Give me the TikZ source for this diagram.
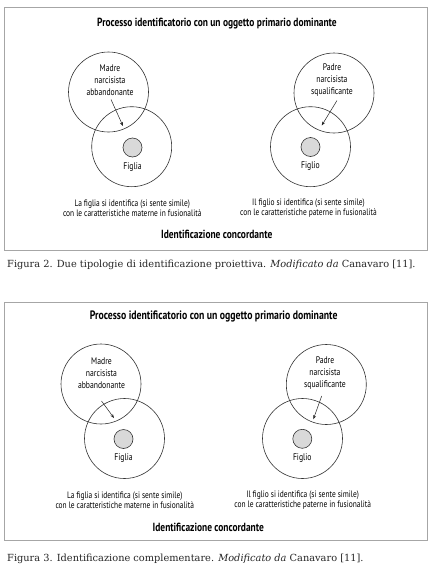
\documentclass[tikz,border=0pt]{standalone}
\usepackage{fontspec}
\setmainfont{DejaVu Serif}
\newfontfamily\cond{PT Sans}[FakeStretch=0.8]
\usetikzlibrary{arrows.meta}
\begin{document}
\begin{tikzpicture}[x=1pt,y=-1pt,
  frame/.style={draw=black!35, line width=0.9pt},
  bigc/.style={circle, draw=black!80, line width=0.6pt, minimum size=80pt, inner sep=0pt},
  dotc/.style={circle, draw=black!80, fill=black!15, line width=0.6pt, minimum size=19pt, inner sep=0pt},
  lbl/.style={font=\cond\fontsize{9.6}{12}\selectfont, align=center, inner sep=0pt, text=black},
  capl/.style={font=\cond\fontsize{9.3}{10.3}\selectfont, align=center, inner sep=0pt, text=black},
  ttl/.style={font=\cond\bfseries\fontsize{11.8}{13}\selectfont, inner sep=0pt, text=black},
  ttlb/.style={font=\cond\bfseries\fontsize{12.2}{13}\selectfont, inner sep=0pt, text=black},
  figcap/.style={font=\fontsize{9.8}{11}\selectfont, anchor=west, inner sep=0pt, text=black!85},
  arr/.style={-{Stealth[length=4pt,width=3pt]}, line width=0.5pt, draw=black!85}]
\fill[white] (0,0) rectangle (432,576);
\useasboundingbox (0,0) rectangle (432,576);
% ---------------- Figure 2 ----------------
\draw[frame] (4.7,7.3) rectangle (427.7,250);
\node[ttl] (t1) at (217,23.3) {Processo identificatorio con un oggetto primario dominante};
\node[bigc] (m1) at (108.5,92) {};
\node[bigc] (f1) at (131.7,146.7) {};
\node[dotc] (d1) at (132.5,147.5) {};
\node[lbl] (mt1) at (110,80) {Madre\\narcisista\\abbandonante};
\node[lbl] (fl1) at (132.5,167) {Figlia};
\coordinate (a1s) at (111,99.5);
\coordinate (a1e) at (123,126);
\draw[arr] (a1s) -- (a1e);
\node[bigc] (p1) at (334,93) {};
\node[bigc] (s1) at (310.5,146.7) {};
\node[dotc] (e1) at (310.5,147) {};
\node[lbl] (pt1) at (332,80.5) {Padre\\narcisista\\squalificante};
\node[lbl] (sl1) at (310.5,166.5) {Figlio};
\coordinate (b1s) at (337,100.5);
\coordinate (b1e) at (321.7,125.5);
\draw[arr] (b1s) -- (b1e);
\node[capl] (c1l) at (132.3,208) {La figlia si identifica (si sente simile)\\con le caratteristiche materne in fusionalità};
\node[capl] (c1r) at (308.5,208) {Il figlio si identifica (si sente simile)\\con le caratteristiche paterne in fusionalità};
\node[ttl] (id1) at (216.7,234) {Identificazione concordante};
\node[figcap] (fig2) at (7,264.5) {Figura 2. Due tipologie di identificazione proiettiva. \textit{Modificato da} Canavaro [11].};
% ---------------- Figure 3 ----------------
\draw[frame] (4.7,302) rectangle (427.7,540.5);
\node[ttlb] (t2) at (213.7,316) {Processo identificatorio con un oggetto primario dominante};
\node[bigc] (m2) at (101,384) {};
\node[bigc] (f2) at (124.5,438.5) {};
\node[dotc] (d2) at (123.5,439) {};
\node[lbl] (mt2) at (101.5,373) {Madre\\narcisista\\abbandonante};
\node[lbl] (fl2) at (123.5,458) {Figlia};
\coordinate (a2s) at (101.5,401);
\coordinate (a2e) at (114,418);
\draw[arr] (a2s) -- (a2e);
\node[bigc] (p2) at (326.3,384.5) {};
\node[bigc] (s2) at (302.5,438.5) {};
\node[dotc] (e2) at (302.3,438.8) {};
\node[lbl] (pt2) at (325,373) {Padre\\narcisista\\squalificante};
\node[lbl] (sl2) at (302.3,457.7) {Figlio};
\coordinate (b2s) at (321.7,396);
\coordinate (b2e) at (313.3,419.3);
\draw[arr] (b2s) -- (b2e);
\node[capl] (c2l) at (124.8,500) {La figlia si identifica (si sente simile)\\con le caratteristiche materne in fusionalità};
\node[capl] (c2r) at (302.7,500) {Il figlio si identifica (si sente simile)\\con le caratteristiche paterne in fusionalità};
\node[ttl] (id2) at (208.3,527) {Identificazione concordante};
\node[figcap] (fig3) at (7,559) {Figura 3. Identificazione complementare. \textit{Modificato da} Canavaro [11].};
\end{tikzpicture}
\end{document}
